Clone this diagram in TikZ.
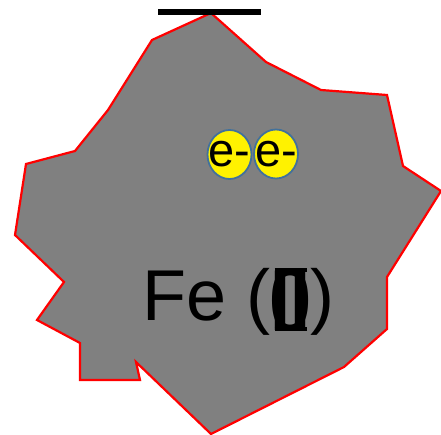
\documentclass[tikz,border=0pt]{standalone}
\usepackage{fontspec}
\setmainfont{Liberation Sans}
\usetikzlibrary{shapes.geometric}
\definecolor{grainfill}{HTML}{808080}
\definecolor{elecedge}{HTML}{41719C}
\tikzset{
  grain/.style={draw=red, fill=grainfill, line width=2.2pt, line join=miter},
  electron/.style={ellipse, draw=elecedge, fill=yellow, line width=1.8pt,
    minimum width=44pt, minimum height=49pt, inner sep=0pt,
    font=\fontsize{47}{50}\selectfont},
  bigtext/.style={inner sep=0pt, anchor=base west, font=\fontsize{72}{80}\selectfont}
}
\newcommand{\oxcluster}{\makebox[0.556em][c]{%
  \makebox[0pt][c]{\raisebox{-10pt}{\scalebox{1.05}[1.21]{0}}}%
  \makebox[0pt][c]{\raisebox{-10pt}{\scalebox{1}[1.2]{\bfseries II}}}%
  \makebox[0pt][c]{\raisebox{-11pt}{\rule{32pt}{4pt}}}%
  \makebox[0pt][c]{\raisebox{48pt}{\rule{32pt}{4pt}}}}}
\begin{document}
\begin{tikzpicture}[x=1pt,y=-1pt]
\useasboundingbox (0,0) rectangle (441,435);
\draw[grain] (211,13) -- (266,62) -- (321,90) -- (387,95) -- (403,166) -- (441,191)
  -- (387,277) -- (387,329) -- (344,367) -- (211,434) -- (136,362) -- (140,380)
  -- (80,380) -- (80,343) -- (37,320) -- (64,282) -- (15,235) -- (26,164)
  -- (75,151) -- (108,110) -- (152,40) -- cycle;
\coordinate (barL) at (158,12);
\coordinate (barR) at (261,12);
\draw[line width=5.5pt] (barL) -- (barR);
\node[electron] (e1) at (229.5,154.5) {\makebox[0pt][c]{e-}};
\node[electron] (e2) at (276,154) {\makebox[0pt][c]{e-}};
\node[bigtext] (fe) at (142.5,320) {Fe (\oxcluster)};
\end{tikzpicture}
\end{document}
